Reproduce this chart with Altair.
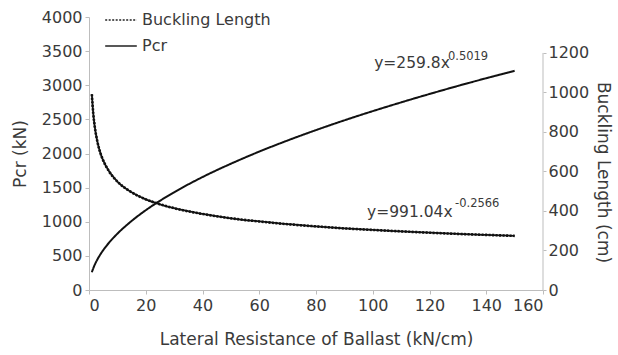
import altair as alt
import pandas as pd

# Lateral resistance of ballast (kN/cm)
x_vals = [1, 1.5, 2, 3, 4, 5, 7, 10, 15, 20, 25, 30, 40, 50, 60, 70, 80, 90, 100,
          110, 120, 130, 140, 150]
# Critical buckling load Pcr (kN)
pcr_vals = [260, 318, 368, 451, 521, 583, 690, 825, 1011, 1169, 1307, 1432, 1655,
            1850, 2028, 2191, 2343, 2486, 2621, 2749, 2872, 2990, 3103, 3212]
# Buckling length (cm)
buck_vals = [991, 893, 830, 748, 694, 656, 602, 549, 495, 459, 434, 414, 385, 363,
             347, 333, 322, 312, 304, 297, 290, 284, 279, 274]

series_names = ["Buckling Length", "Pcr"]

# Fitted power-law equations (base text + exponent)
eq_base = ["y=259.8x", "y=991.04x"]
eq_exp = ["0.5019", "-0.2566"]

FONT = "DejaVu Sans"
TEXT = "#3a3a3a"
AXIS = "#bdbdbd"
W, H = 454, 273
RMAX = 1382  # right scale top, so that 1200 sits below the plot top

pcr_df = pd.DataFrame({"x": x_vals, "v": pcr_vals, "series": "Pcr"})
buck_df = pd.DataFrame({"x": x_vals, "v": buck_vals, "series": "Buckling Length"})

x_scale = alt.Scale(domain=[0, 160], nice=False)
x_axis = alt.Axis(values=list(range(0, 161, 20)), format="d",
                  title="Lateral Resistance of Ballast (kN/cm)")
yl_scale = alt.Scale(domain=[0, 4000], nice=False)
yl_axis = alt.Axis(values=list(range(0, 4001, 500)), format="d", title="Pcr (kN)", orient="left")
yr_scale = alt.Scale(domain=[0, RMAX], nice=False)
yr_axis = alt.Axis(values=list(range(0, 1201, 200)), format="d", title="Buckling Length (cm)",
                   orient="right", domain=False, titleY=155)


def X():
    return alt.X("x:Q", scale=x_scale, axis=x_axis)


def YL(field="v"):
    return alt.Y(f"{field}:Q", scale=yl_scale, axis=yl_axis)


def YR(field="v"):
    return alt.Y(f"{field}:Q", scale=yr_scale, axis=yr_axis)


dash = alt.StrokeDash("series:N",
                      scale=alt.Scale(domain=series_names, range=[[2, 1.5], [1, 0]]),
                      legend=alt.Legend(title=None, orient="none", legendX=15, legendY=-14,
                                        symbolType="stroke", symbolSize=1000,
                                        symbolStrokeWidth=1.6, symbolStrokeColor="#222",
                                        labelFontSize=16, labelFont=FONT, labelColor=TEXT,
                                        labelOffset=4, rowPadding=1))


def eq_text(df, size, yenc):
    return alt.Chart(df).mark_text(align="left", baseline="alphabetic", fontSize=size,
                                   font=FONT, color=TEXT).encode(x=X(), y=yenc, text="t:N")


# Left scale: Pcr
pcr_line = alt.Chart(pcr_df).mark_line(color="#111", strokeWidth=2, interpolate="monotone").encode(
    x=X(), y=YL(), strokeDash=dash)
eq1 = eq_text(pd.DataFrame({"x": [100.5], "v": [3253], "t": [eq_base[0]]}), 15.5, YL())
eq1e = eq_text(pd.DataFrame({"x": [126.5], "v": [3370], "t": [eq_exp[0]]}), 11.5, YL())
left = alt.layer(pcr_line, eq1, eq1e)

# Right scale: buckling length (its axis line drawn up to 1200 only)
buck_fit = alt.Chart(buck_df).mark_line(color="#111", strokeWidth=1.8, interpolate="monotone").encode(
    x=X(), y=YR())
buck_data = alt.Chart(buck_df).mark_line(color="#111", strokeWidth=2.6, interpolate="monotone").encode(
    x=X(), y=YR(), strokeDash=dash)
right_domain = alt.Chart(pd.DataFrame({"v": [0], "v2": [1200]})).mark_rule(
    color=AXIS, strokeWidth=1).encode(x=alt.value(W), y=YR(), y2="v2:Q")
eq2 = eq_text(pd.DataFrame({"x": [98], "v": [371], "t": [eq_base[1]]}), 15.5, YR())
eq2e = eq_text(pd.DataFrame({"x": [129], "v": [421], "t": [eq_exp[1]]}), 11.5, YR())
right = alt.layer(buck_fit, buck_data, right_domain, eq2, eq2e)

chart = alt.layer(left, right).resolve_scale(y="independent").properties(
    width=W, height=H,
    autosize=alt.AutoSizeParams(type="none"),
    padding={"left": 89, "top": 17, "right": 75, "bottom": 65},
    background="white",
).configure_view(stroke=None).configure_axis(
    grid=False, domainColor=AXIS, tickColor=AXIS, tickSize=4,
    labelFont=FONT, labelFontSize=16, labelColor=TEXT, labelPadding=3,
    titleFont=FONT, titleFontSize=17, titleColor=TEXT, titleFontWeight="normal",
).configure_axisX(titlePadding=18).configure_axisLeft(titlePadding=12).configure_axisRight(
    titlePadding=5, tickSize=3, labelPadding=2)

chart.save("out.html", embed_options={"renderer": "svg", "actions": False})
